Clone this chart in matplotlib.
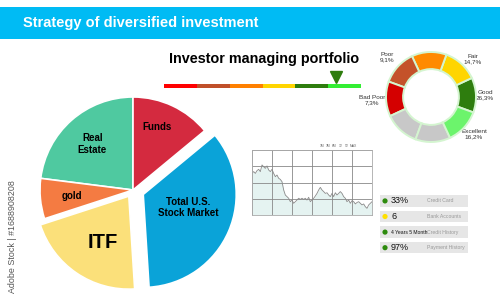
import matplotlib
matplotlib.use("Agg")
import matplotlib.pyplot as plt
from matplotlib.patches import Rectangle
import numpy as np

plt.rcParams["font.family"] = ["Liberation Sans", "DejaVu Sans"]

W, H = 500, 296

# --- data -------------------------------------------------------------
title = "Strategy of diversified investment"
subtitle = "Investor managing portfolio"

alloc_labels = ["Real\nEstate", "gold", "ITF", "Total U.S.\nStock Market", "Funds"]
alloc_share = [23, 7, 21, 35, 14]
alloc_colors = ["#4fc9a0", "#f47b42", "#fbe07a", "#0aa3d8", "#d42a3f"]

gauge_colors = ["#ff0000", "#c0502a", "#ff8000", "#ffd500", "#2e7d0e", "#33ee33"]
gauge_score = 5.24  # marker position, in segment units

rating_share = [1, 1, 1, 1, 1, 1, 1, 1]
rating_colors = ["#2e7d0e", "#ffd500", "#ff8a00", "#c4522a", "#d40000",
                 "#c8c8c8", "#c8c8c8", "#6cf46c"]
rating_labels = ["Poor\n9,1%", "Fair\n14,7%", "Good\n26,3%", "Excellent\n16,2%", "Bad Poor\n7,3%"]

price = [2.56, 2.67, 2.56, 2.73, 2.81, 2.67, 3.08, 2.97, 2.87, 3.02, 2.77, 2.67,
         2.81, 2.56, 2.36, 2.46, 2.26, 2.19, 2.05, 1.54, 1.23, 1.13, 1.03, 0.82,
         0.92, 0.72, 0.82, 0.92, 1.03, 0.96, 1.03, 0.96, 1.03, 0.92, 1.09, 0.82,
         0.92, 1.03, 1.17, 1.33, 1.54, 1.70, 1.54, 1.44, 1.33, 1.37, 1.23, 1.13,
         1.33, 1.13, 1.37, 1.23, 1.33, 1.44, 1.33, 1.13, 1.03, 0.82, 0.92, 0.72,
         0.88, 0.82, 0.68, 0.77, 0.82, 0.72, 0.62, 0.68, 0.51, 0.41, 0.62, 0.72, 0.82]
ranges = ["1M", "3M", "6M", "1Y", "5Y", "MAX"]

score_values = ["33%", "6", "4 Years 5 Month", "97%"]
score_names = ["Credit Card", "Bank Accounts", "Credit History", "Payment History"]
score_dots = ["#2e8b0e", "#ffe000", "#2e8b0e", "#2e8b0e"]

watermark = "Adobe Stock | #1688908208"


def px_axes(fig, x, y, w, h):
    """axes from an image-pixel box (origin top left)."""
    return fig.add_axes([x / W, 1 - (y + h) / H, w / W, h / H])


fig = plt.figure(figsize=(W / 100, H / 100), dpi=100)
fig.patch.set_facecolor("white")

# overlay in pixel units for banner / gauge / loose text
ov = fig.add_axes([0, 0, 1, 1])
ov.set_xlim(0, W)
ov.set_ylim(H, 0)
ov.axis("off")

ov.add_patch(Rectangle((0, 7), W, 32, color="#00bbf4", lw=0))
ov.text(23, 23, title, color="white", fontsize=10.5, fontweight="bold", va="center", ha="left")
ov.text(264, 59, subtitle, color="black", fontsize=10.4, fontweight="bold", va="center", ha="center")

# gauge bar
seg_w = (361 - 164) / len(gauge_colors)
ov.barh([85.7] * len(gauge_colors), [seg_w] * len(gauge_colors),
        left=[164 + i * seg_w for i in range(len(gauge_colors))],
        height=4, color=gauge_colors, lw=0)
ov.plot([164 + gauge_score * seg_w], [76.5], marker="v", markersize=8,
        color="#2e7d0e", lw=0)

ov.text(12.5, 236.5, watermark, rotation=90, fontsize=6.4, color="#555555",
        ha="center", va="center")

# --- allocation pie ---------------------------------------------------
ax_pie = px_axes(fig, 23, 80, 220, 220)
explode = [0, 0, 0.08, 0.12, 0]
wedges, texts = ax_pie.pie(alloc_share, labels=alloc_labels, colors=alloc_colors,
                           startangle=90, explode=explode, labeldistance=0.66,
                           wedgeprops=dict(edgecolor="white", linewidth=1.2),
                           textprops=dict(fontweight="bold", fontsize=7, color="black"))
for t in texts:
    t.set_ha("center")
    t.set_va("center")
    t.set_linespacing(1.15)
texts[2].set_fontsize(14.5)
# nudge a few labels toward the middle, like the original
texts[2].set_position((-0.32, -0.56))
texts[3].set_position((0.59, -0.19))
texts[4].set_position((0.26, 0.68))
lim = 110 / 93
ax_pie.set_xlim(-lim, lim)
ax_pie.set_ylim(-lim, lim)
ax_pie.axis("off")

# --- rating donut -----------------------------------------------------
ax_d = px_axes(fig, 371, 37, 120, 120)
ax_d.pie(rating_share, colors=rating_colors, startangle=-20, counterclock=True,
         wedgeprops=dict(width=0.38, edgecolor="#d4f5d0", linewidth=1.4))
dl = 60 / 45
ax_d.set_xlim(-dl, dl)
ax_d.set_ylim(-dl, dl)
ax_d.axis("off")

label_pos = [(387, 57), (473, 59), (485, 95), (474, 134), (372, 100)]
for (x, y), s in zip(label_pos, rating_labels):
    ov.text(x, y, s, fontsize=4.6, color="#333333", ha="center", va="center",
            linespacing=1.1)

# --- price chart ------------------------------------------------------
ax_l = px_axes(fig, 252, 150, 120, 65)
xs = np.arange(len(price))
ax_l.fill_between(xs, price, 0, color="#e5f3f1", lw=0)
ax_l.plot(xs, price, color="#8a8a8a", lw=0.6)
ax_l.set_xlim(0, len(price) - 1)
ax_l.set_ylim(0, 4)
ax_l.set_xticks(np.linspace(0, len(price) - 1, 7))
ax_l.set_yticks(np.arange(0, 5))
ax_l.tick_params(length=0, labelbottom=False, labelleft=False)
ax_l.grid(True, color="#888888", lw=0.6)
for sp in ax_l.spines.values():
    sp.set_color("#aaaaaa")
    sp.set_linewidth(0.6)
for i, r in enumerate(ranges):
    ov.text(322 + i * 6.3, 146, r, fontsize=2.4, color="#666666", ha="center", va="center")

# --- score rows -------------------------------------------------------
ax_s = px_axes(fig, 380, 195.3, 88, 58)
rows = np.arange(len(score_names))
ax_s.barh(rows, [1] * len(rows), height=0.72, color="#e6e6e6", lw=0)
ax_s.scatter([0.057] * len(rows), rows, s=14, color=score_dots, lw=0, zorder=3)
for i, (v, n) in enumerate(zip(score_values, score_names)):
    small = len(v) > 4
    ax_s.text(0.125, i, v, fontsize=3.6 if small else 6.5, color="#111111",
              ha="left", va="center")
    ax_s.text(0.53, i, n, fontsize=3.7, color="#999999", ha="left", va="center")
ax_s.set_xlim(0, 1)
ax_s.set_ylim(3.36, -0.36)
ax_s.axis("off")

fig.savefig("out.png", dpi=100)
